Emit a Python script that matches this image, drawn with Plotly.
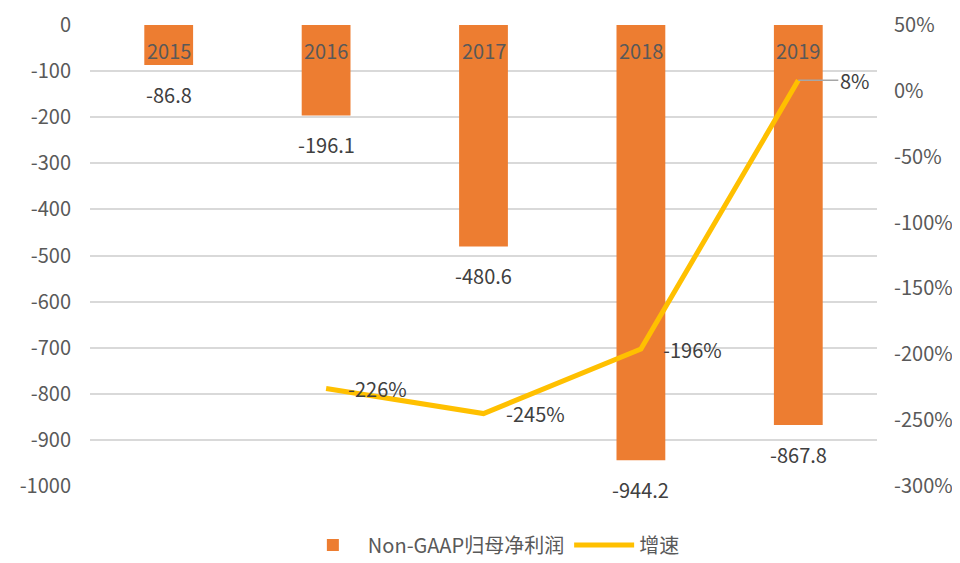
import plotly.graph_objects as go

years = ["2015", "2016", "2017", "2018", "2019"]
profit = [-86.8, -196.1, -480.6, -944.2, -867.8]
growth_years = ["2016", "2017", "2018", "2019"]
growth = [-226, -245, -196, 8]
left_ticks = [0, -100, -200, -300, -400, -500, -600, -700, -800, -900, -1000]
right_ticks = [50, 0, -50, -100, -150, -200, -250, -300]

FONT = "Noto Sans CJK SC"
GRAY = "#595959"
DARK = "#404040"

fig = go.Figure()
fig.add_trace(go.Bar(
    x=years, y=profit, name="Non-GAAP归母净利润",
    marker=dict(color="#ED7D31", line=dict(width=0)),
    width=0.31,
))
fig.add_trace(go.Scatter(
    x=growth_years, y=growth, name="增速", yaxis="y2",
    mode="lines",
    line=dict(color="#FFC000", width=5),
    cliponaxis=False,
))

# category labels at top
for i, yr in enumerate(years):
    fig.add_annotation(x=i, xref="x", y=1, yref="paper", yanchor="middle",
                       text=yr, showarrow=False, yshift=-25,
                       font=dict(size=20, color=GRAY, family=FONT))
# bar value labels
for i, v in enumerate(profit):
    fig.add_annotation(x=i, xref="x", y=v, yref="y", yanchor="middle",
                       text=f"{v:.1f}", showarrow=False, yshift=-29,
                       font=dict(size=20, color=DARK, family=FONT))
# growth labels
for yr, g in zip(growth_years, growth):
    i = years.index(yr)
    if yr == growth_years[-1]:
        fig.add_annotation(x=i, xref="x", y=g, yref="y2",
                           text=f"{g}%", showarrow=True, arrowhead=0, arrowwidth=1.5,
                           arrowcolor="#A6A6A6", ax=40, ay=0, xanchor="left",
                           font=dict(size=20, color=DARK, family=FONT))
    else:
        fig.add_annotation(x=i, xref="x", y=g, yref="y2", xanchor="left",
                           yanchor="middle", text=f"{g}%", showarrow=False,
                           xshift=20,
                           font=dict(size=20, color=DARK, family=FONT))

fig.update_layout(
    width=952, height=555,
    margin=dict(l=82, r=83, t=17, b=77, autoexpand=False),
    plot_bgcolor="white", paper_bgcolor="white",
    font=dict(family=FONT, size=20, color=GRAY),
    xaxis=dict(type="category", categoryarray=years, range=[-0.5, 4.5],
               showticklabels=False, showgrid=False,
               showline=False, ticks="", zeroline=False),
    yaxis=dict(range=[-1000, 0], tickvals=left_ticks,
               ticktext=[str(v) for v in left_ticks],
               showgrid=True, gridcolor="#D9D9D9",
               gridwidth=1.5, zeroline=False, tickfont=dict(size=20, color=GRAY),
               ticklabelstandoff=18, automargin=False),
    yaxis2=dict(range=[-300, 50], tickvals=right_ticks,
                ticktext=[f"{v}%" for v in right_ticks],
                overlaying="y", side="right",
                showgrid=False, zeroline=False, automargin=False,
                tickfont=dict(size=20, color=GRAY), ticklabelstandoff=16),
    legend=dict(orientation="h", x=0.51, xanchor="center", y=-0.128, yanchor="middle",
                font=dict(size=20, color=GRAY), itemwidth=60),
    showlegend=True,
)
fig.write_html("out.html")
